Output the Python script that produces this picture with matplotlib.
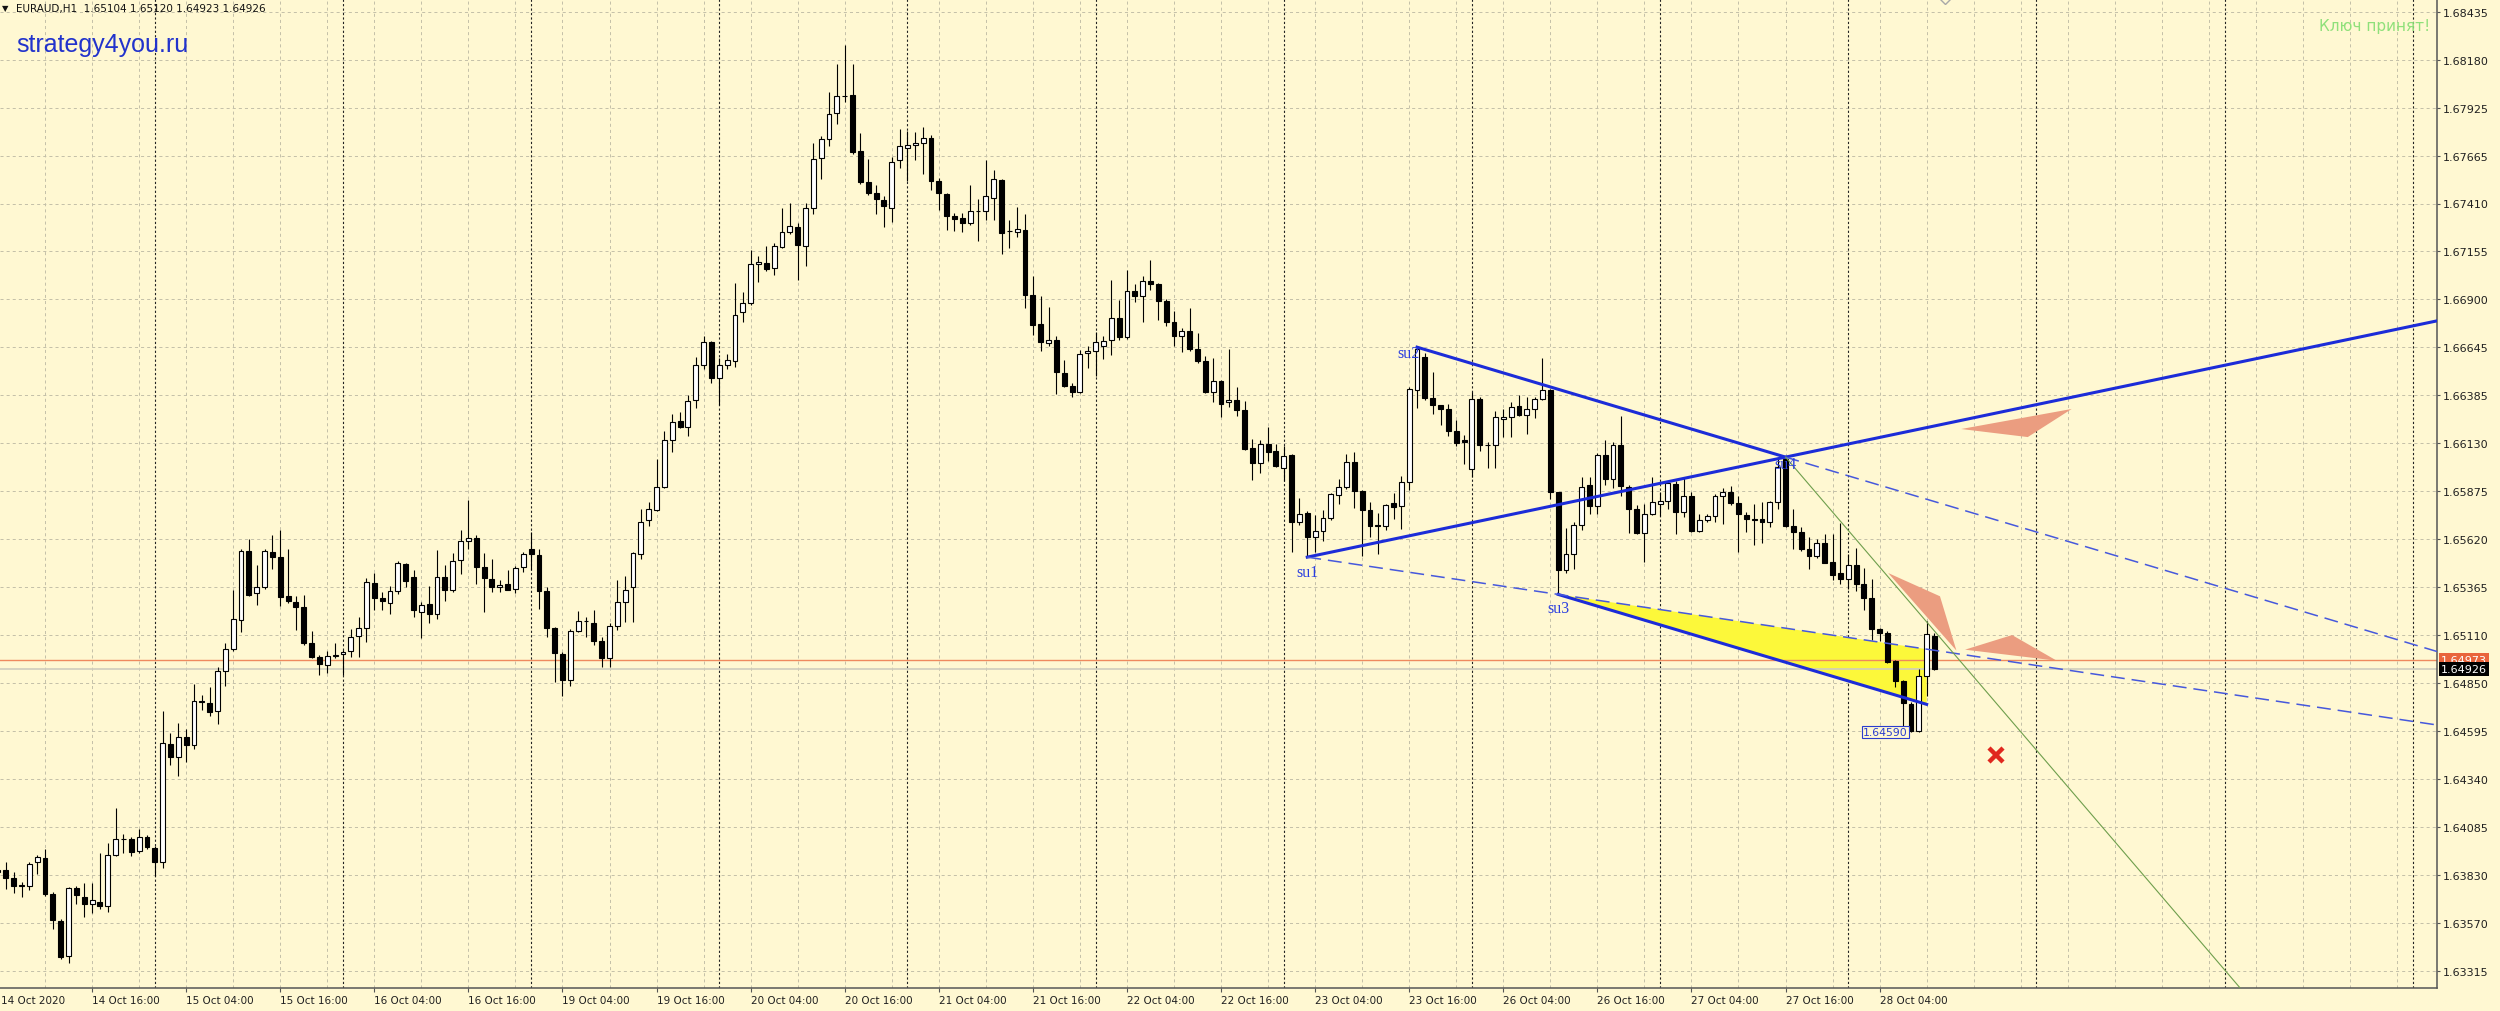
import numpy as np
import matplotlib.pyplot as plt
import matplotlib.transforms as mtransforms
from matplotlib.patches import Polygon

plt.rcParams['font.family'] = ['DejaVu Sans']
plt.rcParams['lines.scale_dashes'] = False

# ---- EURAUD H1 bars, 14 Oct 04:00 .. 28 Oct 11:00 ----
opens = [
    1.63844, 1.63850, 1.63811, 1.63767, 1.63767, 1.63898, 1.63917, 1.63724,
    1.63582, 1.63392, 1.63756, 1.63706, 1.63673, 1.63684, 1.63658, 1.63935,
    1.64018, 1.64018, 1.63953, 1.64027, 1.63968, 1.63898, 1.64526, 1.64454,
    1.64563, 1.64519, 1.64753, 1.64742, 1.64700, 1.64916, 1.65032, 1.65189,
    1.65555, 1.65330, 1.65365, 1.65548, 1.65522, 1.65315, 1.65283, 1.65256,
    1.65064, 1.64988, 1.64948, 1.64995, 1.65004, 1.65021, 1.65102, 1.65145,
    1.65385, 1.65304, 1.65278, 1.65341, 1.65487, 1.65417, 1.65232, 1.65272,
    1.65221, 1.65418, 1.65348, 1.65507, 1.65609, 1.65627, 1.65468, 1.65408,
    1.65362, 1.65378, 1.65355, 1.65469, 1.65568, 1.65533, 1.65344, 1.65145,
    1.65007, 1.64866, 1.65126, 1.65183, 1.65172, 1.65076, 1.64985, 1.65156,
    1.65282, 1.65362, 1.65540, 1.65721, 1.65773, 1.65899, 1.66150, 1.66251,
    1.66219, 1.66361, 1.66551, 1.66669, 1.66482, 1.66551, 1.66569, 1.66832,
    1.66882, 1.67088, 1.67095, 1.67065, 1.67179, 1.67257, 1.67287, 1.67184,
    1.67385, 1.67655, 1.67755, 1.67892, 1.67984, 1.67991, 1.67693, 1.67527,
    1.67465, 1.67431, 1.67389, 1.67641, 1.67705, 1.67721, 1.67732, 1.67762,
    1.67533, 1.67460, 1.67346, 1.67332, 1.67305, 1.67373, 1.67372, 1.67440,
    1.67538, 1.67262, 1.67258, 1.67271, 1.66924, 1.66769, 1.66666, 1.66683,
    1.66505, 1.66438, 1.66402, 1.66612, 1.66626, 1.66651, 1.66683, 1.66799,
    1.66698, 1.66942, 1.66918, 1.66995, 1.66981, 1.66892, 1.66778, 1.66705,
    1.66732, 1.66634, 1.66571, 1.66404, 1.66461, 1.66351, 1.66363, 1.66310,
    1.66105, 1.66025, 1.66128, 1.66087, 1.65998, 1.66069, 1.65708, 1.65758,
    1.65628, 1.65660, 1.65731, 1.65856, 1.65897, 1.66030, 1.65874, 1.65776,
    1.65694, 1.65690, 1.65811, 1.65797, 1.65922, 1.66416, 1.66594, 1.66372,
    1.66333, 1.66313, 1.66199, 1.66151, 1.65991, 1.66369, 1.66119, 1.66119,
    1.66262, 1.66271, 1.66330, 1.66283, 1.66316, 1.66369, 1.66414, 1.65869,
    1.65455, 1.65539, 1.65696, 1.65908, 1.65794, 1.66066, 1.65940, 1.66119,
    1.65899, 1.65780, 1.65651, 1.65753, 1.65807, 1.65824, 1.65914, 1.65765,
    1.65851, 1.65664, 1.65721, 1.65740, 1.65851, 1.65873, 1.65812, 1.65748,
    1.65726, 1.65726, 1.65712, 1.65815, 1.66048, 1.65690, 1.65655, 1.65569,
    1.65530, 1.65601, 1.65498, 1.65437, 1.65405, 1.65480, 1.65378, 1.65306,
    1.65137, 1.65119, 1.64967, 1.64860, 1.64741, 1.64597, 1.64890, 1.65104,
]
highs = [
    1.63865, 1.63898, 1.63844, 1.63789, 1.63898, 1.63931, 1.63964, 1.63735,
    1.63593, 1.63761, 1.63767, 1.63783, 1.63783, 1.63942, 1.63996, 1.64182,
    1.64046, 1.64029, 1.64073, 1.64040, 1.63979, 1.64700, 1.64585, 1.64639,
    1.64607, 1.64846, 1.64785, 1.64831, 1.64934, 1.65064, 1.65348, 1.65566,
    1.65620, 1.65483, 1.65566, 1.65642, 1.65668, 1.65566, 1.65315, 1.65322,
    1.65130, 1.64999, 1.65021, 1.65064, 1.65025, 1.65141, 1.65202, 1.65409,
    1.65439, 1.65337, 1.65370, 1.65500, 1.65494, 1.65452, 1.65282, 1.65370,
    1.65559, 1.65479, 1.65544, 1.65668, 1.65827, 1.65642, 1.65544, 1.65515,
    1.65401, 1.65453, 1.65476, 1.65551, 1.65659, 1.65568, 1.65362, 1.65149,
    1.65019, 1.65138, 1.65236, 1.65202, 1.65241, 1.65099, 1.65172, 1.65403,
    1.65424, 1.65551, 1.65780, 1.65819, 1.66048, 1.66196, 1.66288, 1.66299,
    1.66390, 1.66589, 1.66704, 1.66676, 1.66585, 1.66608, 1.66985, 1.66939,
    1.67161, 1.67133, 1.67184, 1.67202, 1.67385, 1.67412, 1.67305, 1.67412,
    1.67732, 1.67769, 1.68007, 1.68158, 1.68258, 1.68155, 1.67785, 1.67648,
    1.67511, 1.67453, 1.67659, 1.67808, 1.67796, 1.67792, 1.67819, 1.67778,
    1.67545, 1.67465, 1.67362, 1.67362, 1.67511, 1.67435, 1.67645, 1.67588,
    1.67541, 1.67324, 1.67392, 1.67356, 1.67025, 1.66915, 1.66858, 1.66705,
    1.66573, 1.66452, 1.66630, 1.66648, 1.66723, 1.66701, 1.67000, 1.66897,
    1.67054, 1.66981, 1.67022, 1.67111, 1.66986, 1.66901, 1.66835, 1.66746,
    1.66853, 1.66719, 1.66598, 1.66586, 1.66470, 1.66634, 1.66431, 1.66359,
    1.66153, 1.66149, 1.66217, 1.66128, 1.66114, 1.66075, 1.65838, 1.65767,
    1.65749, 1.65776, 1.65864, 1.65939, 1.66075, 1.66082, 1.65879, 1.65820,
    1.65761, 1.65806, 1.65864, 1.65954, 1.66431, 1.66644, 1.66612, 1.66514,
    1.66336, 1.66342, 1.66253, 1.66176, 1.66405, 1.66378, 1.66137, 1.66301,
    1.66316, 1.66351, 1.66387, 1.66378, 1.66378, 1.66587, 1.66423, 1.65873,
    1.65676, 1.65708, 1.65949, 1.65949, 1.66080, 1.66146, 1.66137, 1.66276,
    1.65908, 1.65801, 1.65807, 1.65949, 1.65869, 1.65932, 1.65932, 1.65949,
    1.65869, 1.65753, 1.65753, 1.65860, 1.65890, 1.65901, 1.65851, 1.65762,
    1.65807, 1.65819, 1.65824, 1.66048, 1.66057, 1.65780, 1.65682, 1.65628,
    1.65619, 1.65646, 1.65646, 1.65705, 1.65539, 1.65574, 1.65467, 1.65408,
    1.65146, 1.65128, 1.64976, 1.64869, 1.64747, 1.64926, 1.65181, 1.65120,
]
lows = [
    1.63822, 1.63750, 1.63730, 1.63708, 1.63746, 1.63833, 1.63713, 1.63538,
    1.63375, 1.63358, 1.63669, 1.63604, 1.63621, 1.63647, 1.63626, 1.63927,
    1.63942, 1.63927, 1.63942, 1.63964, 1.63822, 1.63865, 1.64415, 1.64356,
    1.64428, 1.64498, 1.64705, 1.64676, 1.64633, 1.64836, 1.65021, 1.65125,
    1.65315, 1.65265, 1.65354, 1.65457, 1.65261, 1.65278, 1.65136, 1.65053,
    1.64982, 1.64894, 1.64907, 1.64982, 1.64894, 1.64988, 1.64988, 1.65069,
    1.65243, 1.65239, 1.65221, 1.65326, 1.65365, 1.65206, 1.65091, 1.65173,
    1.65191, 1.65287, 1.65337, 1.65435, 1.65566, 1.65381, 1.65228, 1.65339,
    1.65339, 1.65346, 1.65332, 1.65442, 1.65453, 1.65248, 1.65099, 1.64859,
    1.64779, 1.64836, 1.65122, 1.65099, 1.65053, 1.64939, 1.64939, 1.65133,
    1.65179, 1.65179, 1.65515, 1.65689, 1.65769, 1.65894, 1.66086, 1.66214,
    1.66169, 1.66317, 1.66528, 1.66452, 1.66333, 1.66528, 1.66539, 1.66779,
    1.66871, 1.66992, 1.67049, 1.67031, 1.67175, 1.67248, 1.67001, 1.67076,
    1.67357, 1.67540, 1.67716, 1.67838, 1.67952, 1.67677, 1.67517, 1.67458,
    1.67355, 1.67287, 1.67312, 1.67602, 1.67533, 1.67641, 1.67568, 1.67481,
    1.67378, 1.67271, 1.67264, 1.67259, 1.67298, 1.67209, 1.67324, 1.67324,
    1.67143, 1.67173, 1.67232, 1.66853, 1.66710, 1.66621, 1.66648, 1.66395,
    1.66429, 1.66377, 1.66399, 1.66532, 1.66488, 1.66580, 1.66603, 1.66680,
    1.66687, 1.66883, 1.66776, 1.66950, 1.66790, 1.66755, 1.66648, 1.66616,
    1.66621, 1.66562, 1.66399, 1.66349, 1.66270, 1.66324, 1.66274, 1.66096,
    1.65936, 1.65971, 1.66034, 1.66003, 1.65932, 1.65553, 1.65696, 1.65523,
    1.65553, 1.65607, 1.65722, 1.65808, 1.65886, 1.65785, 1.65530, 1.65630,
    1.65541, 1.65669, 1.65726, 1.65674, 1.65879, 1.66319, 1.66363, 1.66286,
    1.66230, 1.66171, 1.66117, 1.66021, 1.65949, 1.66092, 1.65998, 1.65998,
    1.66164, 1.66164, 1.66276, 1.66182, 1.66266, 1.66360, 1.65833, 1.65324,
    1.65440, 1.65458, 1.65669, 1.65753, 1.65753, 1.65908, 1.65890, 1.65851,
    1.65651, 1.65646, 1.65498, 1.65748, 1.65744, 1.65780, 1.65646, 1.65735,
    1.65655, 1.65658, 1.65708, 1.65708, 1.65699, 1.65801, 1.65551, 1.65655,
    1.65587, 1.65598, 1.65682, 1.65780, 1.65682, 1.65565, 1.65557, 1.65462,
    1.65521, 1.65489, 1.65401, 1.65381, 1.65355, 1.65342, 1.65240, 1.65080,
    1.65074, 1.64958, 1.64830, 1.64592, 1.64592, 1.64590, 1.64780, 1.64923,
]
closes = [
    1.63850, 1.63811, 1.63767, 1.63774, 1.63883, 1.63924, 1.63724, 1.63586,
    1.63390, 1.63756, 1.63717, 1.63673, 1.63691, 1.63658, 1.63935, 1.64018,
    1.64018, 1.63948, 1.64029, 1.63974, 1.63898, 1.64530, 1.64454, 1.64563,
    1.64519, 1.64753, 1.64750, 1.64694, 1.64916, 1.65032, 1.65195, 1.65555,
    1.65322, 1.65365, 1.65555, 1.65522, 1.65311, 1.65287, 1.65256, 1.65064,
    1.64988, 1.64951, 1.64995, 1.64999, 1.65017, 1.65097, 1.65145, 1.65391,
    1.65304, 1.65287, 1.65341, 1.65490, 1.65398, 1.65239, 1.65267, 1.65221,
    1.65418, 1.65348, 1.65505, 1.65609, 1.65625, 1.65468, 1.65409, 1.65362,
    1.65373, 1.65350, 1.65465, 1.65540, 1.65540, 1.65344, 1.65145, 1.65012,
    1.64866, 1.65126, 1.65183, 1.65183, 1.65076, 1.64985, 1.65156, 1.65282,
    1.65346, 1.65545, 1.65712, 1.65780, 1.65899, 1.66150, 1.66247, 1.66219,
    1.66356, 1.66551, 1.66669, 1.66477, 1.66551, 1.66573, 1.66818, 1.66882,
    1.67088, 1.67101, 1.67060, 1.67184, 1.67257, 1.67289, 1.67188, 1.67385,
    1.67648, 1.67755, 1.67888, 1.67984, 1.67986, 1.67687, 1.67527, 1.67465,
    1.67437, 1.67396, 1.67630, 1.67716, 1.67723, 1.67735, 1.67762, 1.67533,
    1.67465, 1.67346, 1.67328, 1.67305, 1.67373, 1.67372, 1.67449, 1.67541,
    1.67253, 1.67262, 1.67274, 1.66924, 1.66764, 1.66669, 1.66683, 1.66509,
    1.66434, 1.66402, 1.66607, 1.66626, 1.66671, 1.66678, 1.66799, 1.66698,
    1.66942, 1.66915, 1.66998, 1.66981, 1.66892, 1.66778, 1.66705, 1.66728,
    1.66634, 1.66568, 1.66404, 1.66461, 1.66342, 1.66363, 1.66310, 1.66101,
    1.66025, 1.66128, 1.66082, 1.66007, 1.66064, 1.65708, 1.65753, 1.65628,
    1.65665, 1.65731, 1.65859, 1.65897, 1.66030, 1.65874, 1.65776, 1.65687,
    1.65687, 1.65799, 1.65793, 1.65922, 1.66420, 1.66634, 1.66372, 1.66333,
    1.66313, 1.66199, 1.66132, 1.66137, 1.66369, 1.66119, 1.66121, 1.66271,
    1.66271, 1.66325, 1.66280, 1.66316, 1.66369, 1.66414, 1.65869, 1.65455,
    1.65539, 1.65696, 1.65896, 1.65794, 1.66066, 1.65940, 1.66119, 1.65905,
    1.65780, 1.65651, 1.65753, 1.65815, 1.65824, 1.65919, 1.65765, 1.65851,
    1.65660, 1.65721, 1.65740, 1.65851, 1.65873, 1.65812, 1.65753, 1.65726,
    1.65723, 1.65712, 1.65815, 1.66003, 1.65690, 1.65655, 1.65569, 1.65530,
    1.65601, 1.65494, 1.65426, 1.65405, 1.65480, 1.65378, 1.65306, 1.65137,
    1.65119, 1.64962, 1.64860, 1.64744, 1.64597, 1.64887, 1.65110, 1.64926,
]

# time scale: one label every 12 bars starting at bar 12
first_label = "14 Oct 2020"
time_labels = [
    "14 Oct 16:00", "15 Oct 04:00", "15 Oct 16:00", "16 Oct 04:00", "16 Oct 16:00",
    "19 Oct 04:00", "19 Oct 16:00", "20 Oct 04:00", "20 Oct 16:00", "21 Oct 04:00",
    "21 Oct 16:00", "22 Oct 04:00", "22 Oct 16:00", "23 Oct 04:00", "23 Oct 16:00",
    "26 Oct 04:00", "26 Oct 16:00", "27 Oct 04:00", "27 Oct 16:00", "28 Oct 04:00",
]
price_labels = [
    "1.68435", "1.68180", "1.67925", "1.67665", "1.67410", "1.67155", "1.66900",
    "1.66645", "1.66385", "1.66130", "1.65875", "1.65620", "1.65365", "1.65110",
    "1.64850", "1.64595", "1.64340", "1.64085", "1.63830", "1.63570", "1.63315",
]
price_top, price_bottom = 1.68435, 1.63315

# pattern points
su_names = ["su1", "su2", "su3", "su4"]
su_bars = [167, 181, 199, 228]
su_prices = [1.65523, 1.66644, 1.65324, 1.66057]
channel_end_bar = 246
green_end_bar, green_end_price = 286, 1.63222

# salmon triangles (bar, price)
tri_bars = [[250.4, 264.5, 258.9], [241.1, 247.7, 249.8], [250.9, 256.9, 262.6]]
tri_prices = [[1.66207, 1.66314, 1.66164], [1.65438, 1.65314, 1.65024],
              [1.65029, 1.65107, 1.64970]]

cross_bar, cross_price = 254.8, 1.64469
low_bar, low_price = 245, 1.64590
ask_price = 1.64973
bid_price = closes[-1]
header = "EURAUD,H1  1.65104 1.65120 1.64923 1.64926"

BG = "#fff8d2"
GRID = "#c4c0a8"
BLUE = "#1c2cd8"
DASH_BLUE = "#4658dc"

W, H = 2500, 1012
fig = plt.figure(figsize=(W / 100, H / 100), dpi=100)
fig.patch.set_facecolor(BG)
ax = fig.add_axes([0, 23 / H, 2437 / W, 989 / H])
ax.set_facecolor(BG)

bar_px = 7.84
x_hi = 2439 / bar_px
ax.set_xlim(2 / bar_px, x_hi)
px_per_price = 959 / (price_top - price_bottom)
y_top = price_top + 12.7 / px_per_price
ax.set_ylim(price_bottom - 17.3 / px_per_price, y_top)

# grid + day separators
yt = np.linspace(price_top, price_bottom, len(price_labels))
for p in yt:
    ax.axhline(p, color=GRID, lw=0.7, dashes=(2.2, 2.2), zorder=0.5)
for b in range(6, int(x_hi) + 1, 6):
    ax.axvline(b, color=GRID, lw=0.7, dashes=(2.2, 2.2), zorder=0.5)
for b in range(20, int(x_hi) + 1, 24):
    ax.axvline(b, color="#222222", lw=0.8, dashes=(1.6, 1.6), zorder=0.6)

# pattern lines
def line_at(i0, i1, b):
    b = np.asarray(b, dtype=float)
    return su_prices[i0] + (su_prices[i1] - su_prices[i0]) * (b - su_bars[i0]) / (su_bars[i1] - su_bars[i0])

slope24 = (su_prices[3] - su_prices[1]) / (su_bars[3] - su_bars[1])
def channel(b):
    return su_prices[2] + slope24 * (np.asarray(b, dtype=float) - su_bars[2])

yb = [su_bars[2], channel_end_bar, channel_end_bar]
yp = [su_prices[2], float(line_at(0, 2, channel_end_bar)), float(channel(channel_end_bar))]
ax.add_patch(Polygon(list(zip(yb, yp)), closed=True, fc="#fcf83a", ec="none", zorder=1))

for tb, tp in zip(tri_bars, tri_prices):
    ax.add_patch(Polygon(list(zip(tb, tp)), closed=True, fc="#eb9d80", ec="none", zorder=2))

ax.axhline(bid_price, color="#cfcdbd", lw=1.2, zorder=2.4)
ax.axhline(ask_price, color="#ef8a5e", lw=1.0, zorder=2.5)

# candles
idx = np.arange(len(closes))
o, h, l, c = (np.array(v) for v in (opens, highs, lows, closes))
up = c >= o
ax.vlines(idx, l, h, color="black", lw=0.8, zorder=3)
body_lo = np.minimum(o, c)
body_h = np.maximum(np.abs(c - o), 0.000012)
ax.bar(idx[up], body_h[up], bottom=body_lo[up], width=0.62, facecolor="white",
       edgecolor="black", linewidth=0.8, zorder=4)
ax.bar(idx[~up], body_h[~up], bottom=body_lo[~up], width=0.62, facecolor="black",
       edgecolor="black", linewidth=0.8, zorder=4)

xr = [su_bars[0], x_hi]
ax.plot(xr, line_at(0, 3, xr), color=BLUE, lw=2.2, zorder=5)
ax.plot(su_bars[1::2], su_prices[1::2], color=BLUE, lw=2.2, zorder=5)
ax.plot([su_bars[2], channel_end_bar], channel([su_bars[2], channel_end_bar]),
        color=BLUE, lw=2.2, zorder=5)
ax.plot([su_bars[0], x_hi], line_at(0, 2, [su_bars[0], x_hi]), color=DASH_BLUE,
        lw=1.1, dashes=(10, 5), zorder=5)
ax.plot([su_bars[3], x_hi], line_at(1, 3, [su_bars[3], x_hi]), color=DASH_BLUE,
        lw=1.1, dashes=(10, 5), zorder=5)
gx = np.array([su_bars[3], green_end_bar + 10])
gy = su_prices[3] + (green_end_price - su_prices[3]) * (gx - su_bars[3]) / (green_end_bar - su_bars[3])
ax.plot(gx, gy, color="#6e9e4c", lw=0.8, zorder=5)

su_offsets = [(0, -10.6), (-6.5, -4.3), (0, -9.8), (0, -5)]
for name, b, p, off in zip(su_names, su_bars, su_prices, su_offsets):
    ax.annotate(name, (b, p), xytext=off, textcoords="offset points", ha="center",
                va="center", fontsize=11.5, family=["Liberation Serif", "DejaVu Serif"],
                color="#2a3ee0", zorder=6)

ax.annotate(f"{low_price:.5f}", (low_bar, low_price), xytext=(-8, 0), textcoords="offset points",
            ha="right", va="center", fontsize=7.8, color="#2a3ccf", zorder=7,
            bbox=dict(boxstyle="square,pad=0.12", fc=BG, ec="#2a3ccf", lw=0.8))

ax.plot(cross_bar, cross_price, marker="x", ms=10, mew=3.2, color="#e0281e", zorder=6)
ax.plot(248.3, y_top, marker="D", ms=5, mfc="none", mec="#a8a8a8", zorder=6)

# axes
for s in ("top", "left"):
    ax.spines[s].set_visible(False)
for s in ("right", "bottom"):
    ax.spines[s].set_color("#555555")
    ax.spines[s].set_linewidth(1.1)
ax.yaxis.tick_right()
ax.set_yticks(yt, price_labels)
ax.tick_params(axis="y", length=2.5, width=0.8, color="#555555", pad=2,
               labelsize=8, labelcolor="#202020")
ax.set_xticks(12 * np.arange(1, len(time_labels) + 1), time_labels)
for t in ax.get_xticklabels():
    t.set_horizontalalignment("left")
ax.tick_params(axis="x", length=3, width=0.8, color="#555555", pad=2,
               labelsize=7.5, labelcolor="#202020")
ax.text(0.0005, -0.0125, first_label, transform=ax.transAxes, ha="left", va="center",
        fontsize=7.5, color="#202020")

trans = mtransforms.blended_transform_factory(ax.transAxes, ax.transData)
ax.text(1.0 + 4 / 2437, ask_price, f"{ask_price:.5f}", transform=trans, ha="left",
        va="center", fontsize=8, color="white", clip_on=False, zorder=10,
        bbox=dict(boxstyle="square,pad=0.15", fc="#e9643c", ec="none"))
ax.text(1.0 + 4 / 2437, bid_price, f"{bid_price:.5f}", transform=trans, ha="left",
        va="center", fontsize=8, color="white", clip_on=False, zorder=11,
        bbox=dict(boxstyle="square,pad=0.15", fc="black", ec="none"))

# header texts
fig.text(2 / W, 1 - 9 / H, "\u25bc", fontsize=6, va="center", ha="left", color="#111111")
fig.text(16 / W, 1 - 9 / H, header, fontsize=7.5, va="center", ha="left", color="#111111")
fig.text(16 / W, 1 - 52 / H, "strategy4you.ru", fontsize=18, va="baseline", ha="left",
         color="#2233cc", family=["Liberation Sans", "DejaVu Sans"])
fig.text(2430 / W, 1 - 31 / H, "Ключ принят!", fontsize=11, va="baseline", ha="right",
         color="#8fe07a")

fig.savefig("out.png", dpi=100, facecolor=BG)
